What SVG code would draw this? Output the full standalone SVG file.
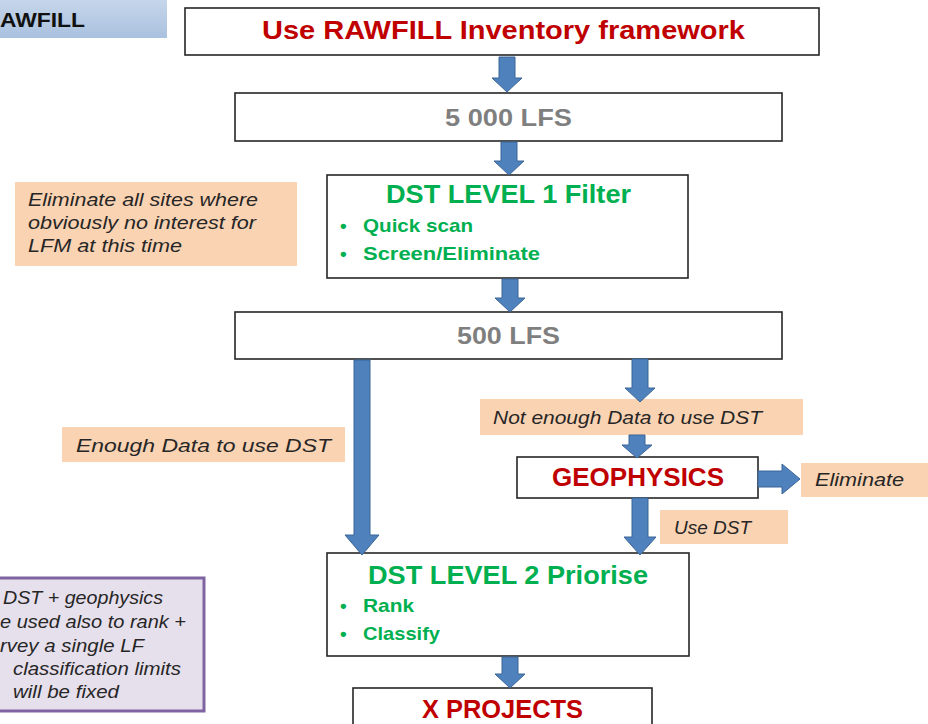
<svg xmlns="http://www.w3.org/2000/svg" width="928" height="724" viewBox="0 0 928 724">
<defs>
<linearGradient id="ban" x1="0" y1="0" x2="0" y2="1">
<stop offset="0" stop-color="#C6D6EA"/>
<stop offset="1" stop-color="#A9C1DF"/>
</linearGradient>
<style>
.box{fill:#fff;stroke:#262626;stroke-width:1.6}
.note{fill:#FAD3B3;stroke:none}
.arr{fill:#4F81BD;stroke:#3A6597;stroke-width:1}
text{font-family:"Liberation Sans","Open Sans",Arial,sans-serif}
.red{fill:#C00000;font-weight:bold;font-size:26px}
.gray{fill:#7F7F7F;font-weight:bold;font-size:24px}
.green{fill:#00B050;font-weight:bold;font-size:26px}
.bul{fill:#00B050;font-weight:bold;font-size:19px}
.it{fill:#262626;font-style:italic;font-size:18px}
</style>
</defs>
<g id="banner">
<rect x="0" y="0" width="167" height="38" fill="url(#ban)"/>
<text x="0" y="27" font-size="21" font-weight="bold" fill="#111" textLength="85" lengthAdjust="spacingAndGlyphs">AWFILL</text>
</g>
<g id="n-framework">
<rect class="box" x="185" y="8" width="634" height="47"/>
<text class="red" x="262" y="39" textLength="483" lengthAdjust="spacingAndGlyphs">Use RAWFILL Inventory framework</text>
</g>
<g id="n-5000">
<rect class="box" x="235" y="93" width="547" height="48"/>
<text class="gray" x="445" y="126" textLength="127" lengthAdjust="spacingAndGlyphs">5 000 LFS</text>
</g>
<g id="n-level1">
<rect class="box" x="327" y="175" width="361" height="103"/>
<text class="green" x="386" y="203" textLength="245" lengthAdjust="spacingAndGlyphs">DST LEVEL 1 Filter</text>
<text class="bul" x="340" y="232">•</text>
<text class="bul" x="363" y="232" textLength="110" lengthAdjust="spacingAndGlyphs">Quick scan</text>
<text class="bul" x="340" y="260">•</text>
<text class="bul" x="363" y="260" textLength="177" lengthAdjust="spacingAndGlyphs">Screen/Eliminate</text>
</g>
<g id="n-note-eliminate-sites">
<rect class="note" x="15" y="182" width="282" height="84"/>
<text class="it" x="28" y="206" textLength="230" lengthAdjust="spacingAndGlyphs">Eliminate all sites where</text>
<text class="it" x="28" y="229" textLength="228" lengthAdjust="spacingAndGlyphs">obviously no interest for</text>
<text class="it" x="28" y="252" textLength="154" lengthAdjust="spacingAndGlyphs">LFM at this time</text>
</g>
<g id="n-500">
<rect class="box" x="235" y="312" width="547" height="47"/>
<text class="gray" x="457" y="344" textLength="103" lengthAdjust="spacingAndGlyphs">500 LFS</text>
</g>
<g id="n-enough">
<rect class="note" x="62" y="427" width="283" height="35"/>
<text class="it" x="76" y="452" textLength="255" lengthAdjust="spacingAndGlyphs">Enough Data to use DST</text>
</g>
<g id="n-not-enough">
<rect class="note" x="480" y="399" width="323" height="36"/>
<text class="it" x="493" y="424" textLength="269" lengthAdjust="spacingAndGlyphs">Not enough Data to use DST</text>
</g>
<g id="n-geophysics">
<rect class="box" x="517" y="457" width="241" height="41"/>
<text class="red" x="552" y="486" textLength="172" lengthAdjust="spacingAndGlyphs">GEOPHYSICS</text>
</g>
<g id="n-eliminate">
<rect class="note" x="801" y="463" width="127" height="34"/>
<text class="it" x="815" y="486" textLength="89" lengthAdjust="spacingAndGlyphs">Eliminate</text>
</g>
<g id="n-usedst">
<rect class="note" x="660" y="510" width="128" height="34"/>
<text class="it" x="674" y="534" textLength="77" lengthAdjust="spacingAndGlyphs">Use DST</text>
</g>
<g id="n-level2">
<rect class="box" x="327" y="553" width="362" height="103"/>
<text class="green" x="368" y="584" textLength="280" lengthAdjust="spacingAndGlyphs">DST LEVEL 2 Priorise</text>
<text class="bul" x="340" y="612">•</text>
<text class="bul" x="363" y="612" textLength="51" lengthAdjust="spacingAndGlyphs">Rank</text>
<text class="bul" x="340" y="640">•</text>
<text class="bul" x="363" y="640" textLength="77" lengthAdjust="spacingAndGlyphs">Classify</text>
</g>
<g id="n-xprojects">
<rect class="box" x="353" y="688" width="299" height="50"/>
<text class="red" x="422" y="718" textLength="161" lengthAdjust="spacingAndGlyphs">X PROJECTS</text>
</g>
<g id="n-purple-note">
<rect x="-4" y="578" width="208" height="133" fill="#E6E0EC" stroke="#8064A2" stroke-width="3"/>
<text class="it" x="3" y="604" textLength="160" lengthAdjust="spacingAndGlyphs">DST + geophysics</text>
<text class="it" x="0" y="628" textLength="186" lengthAdjust="spacingAndGlyphs">e used also to rank +</text>
<text class="it" x="0" y="652" textLength="144" lengthAdjust="spacingAndGlyphs">rvey a single LF</text>
<text class="it" x="13" y="675" textLength="168" lengthAdjust="spacingAndGlyphs">classification limits</text>
<text class="it" x="13" y="698" textLength="106" lengthAdjust="spacingAndGlyphs">will be fixed</text>
</g>
<g id="connectors">
<polygon class="arr" points="499,57 515,57 515,78 522,78 507,92 492,78 499,78"/>
<polygon class="arr" points="501,142 517,142 517,161 524,161 509,175 494,161 501,161"/>
<polygon class="arr" points="502,279 518,279 518,298 525,298 510,312 495,298 502,298"/>
<polygon class="arr" points="354,360 370,360 370,535 379,535 362,555 345,535 354,535"/>
<polygon class="arr" points="632,359 648,359 648,388 655,388 640,402 625,388 632,388"/>
<polygon class="arr" points="629,435 645,435 645,445 652,445 637,458 622,445 629,445"/>
<polygon class="arr" points="632,498 648,498 648,537 656,537 640,555 624,537 632,537"/>
<polygon class="arr" points="758,471 782,471 782,464 800,479 782,494 782,487 758,487"/>
<polygon class="arr" points="502,657 518,657 518,674 525,674 510,688 495,674 502,674"/>
</g>
</svg>
